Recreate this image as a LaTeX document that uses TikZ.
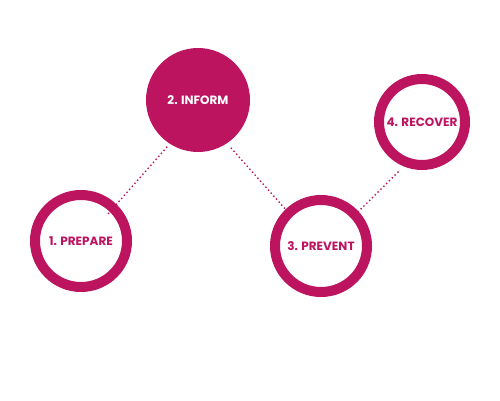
\documentclass[tikz,border=0pt]{standalone}
\usepackage{fontspec}
\setmainfont{Poppins}
\usetikzlibrary{calc}
\definecolor{mag}{HTML}{BD1460}
\begin{document}
\begin{tikzpicture}[x=1pt,y=1pt,
  lbl/.style={font=\fontsize{12}{14}\selectfont\bfseries},
  ring/.style={circle,draw=mag,line width=10pt,fill=white,inner sep=0pt,
    minimum size=92pt,text=mag,lbl},
  disk/.style={circle,fill=mag,inner sep=0pt,minimum size=104pt,text=white,lbl},
  dotline/.style={draw=mag,line width=1.4pt,dash pattern=on 1.4pt off 2.6pt}]
\useasboundingbox (0,0) rectangle (500,400);
% coordinates of circle centres
\coordinate (c1) at (81,159);
\coordinate (c2) at (198,300);
\coordinate (c3) at (321,154);
\coordinate (c4) at (422,278);
% connector end points
\coordinate (a1) at ($(c2)+(236.6:56)$);
\coordinate (b1) at ($(c1)+(45:37)$);
\coordinate (a2) at ($(c2)+(-55.5:58)$);
\coordinate (b2) at ($(c3)+(134:52)$);
\coordinate (a3) at ($(c3)+(42.6:50)$);
\coordinate (b3) at ($(c4)+(245.4:53)$);
% connectors (behind rings)
\draw[dotline] (a1) -- (b1);
\draw[dotline] (a2) -- (b2);
\draw[dotline] (a3) -- (b3);
% nodes
\node[disk] (n2) at (c2) {2. INFORM};
\node[ring,fill=none] (n1) at (c1) {1. PREPARE};
\node[ring] (n3) at (c3) {3. PREVENT};
\node[ring,minimum size=86pt] (n4) at (c4) {4. RECOVER};
\end{tikzpicture}
\end{document}
